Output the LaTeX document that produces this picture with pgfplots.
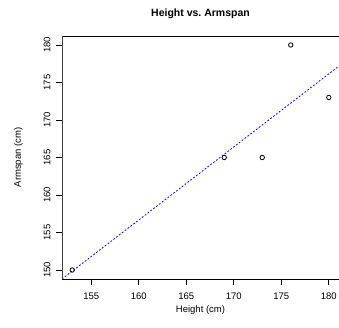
\documentclass[border=0pt]{standalone}
\usepackage{fontspec}
\setmainfont{Liberation Sans}
\usepackage{pgfplots}
\pgfplotsset{compat=1.18}
\begin{document}
\begin{tikzpicture}[x=1pt,y=1pt]
\path[use as bounding box] (0,0) rectangle (339,328);
\begin{axis}[
  at={(62pt,49pt)}, anchor=south west,
  scale only axis, width=277pt, height=243pt,
  xmin=151.92, xmax=181.08, ymin=148.8, ymax=181.2,
  xtick={155,160,...,180}, ytick={150,155,...,180},
  tick align=outside, tickwidth=6pt,
  xtick pos=bottom, ytick pos=left,
  axis line style={black, line width=0.8pt},
  tick style={black, line width=0.6pt},
  /pgf/number format/assume math mode=true,
  ticklabel style={font=\fontsize{9.5}{11}\selectfont},
  yticklabel style={rotate=90, anchor=south},
  yticklabel shift=2pt,
  xticklabel style={yshift=-4pt},
  title={\bfseries Height vs.\ Armspan},
  title style={font=\fontsize{10.5}{12}\selectfont, at={(0.5,1)}, yshift=8pt},
  xlabel={Height (cm)}, ylabel={Armspan (cm)},
  label style={font=\fontsize{9.5}{11}\selectfont},
  xlabel style={yshift=1pt},
  ylabel style={yshift=14pt},
  clip=true,
]
\addplot[only marks, mark=o, mark size=2.2pt, mark options={line width=0.8pt, black}] coordinates {
 (153,150) (169,165) (173,165) (176,180) (180,173)
};
\addplot[blue, dash pattern=on 1.8pt off 1.8pt, line width=0.8pt] coordinates {
 (151.92,148.8) (181.08,177.2)
};
\draw[black!75, line width=1.6pt] (rel axis cs:0,0) -- (rel axis cs:0,1);
\end{axis}
\end{tikzpicture}
\end{document}
